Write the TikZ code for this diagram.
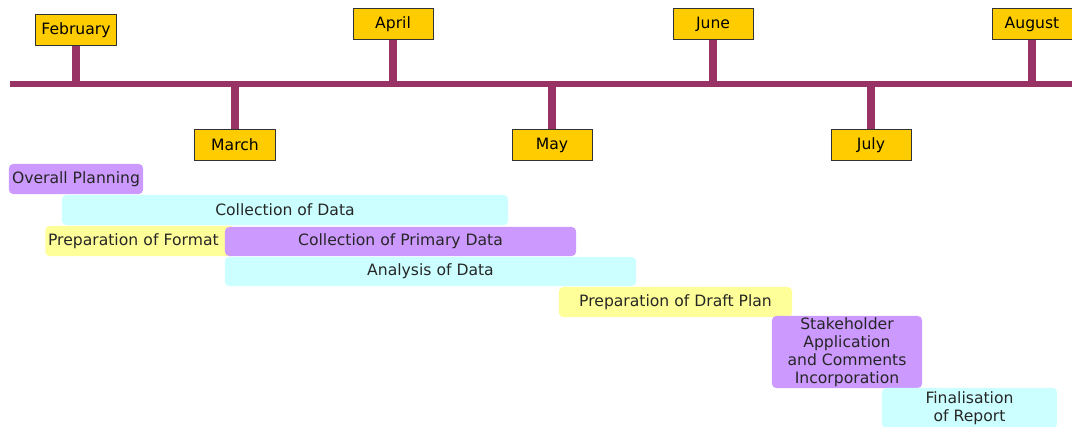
\documentclass[tikz,border=0pt]{standalone}
\usepackage{fontspec}
\setmainfont{DejaVu Sans}
\definecolor{axiscol}{RGB}{153,51,102}
\definecolor{monthfill}{RGB}{255,204,0}
\definecolor{barpurple}{RGB}{204,153,255}
\definecolor{barcyan}{RGB}{204,255,255}
\definecolor{baryellow}{RGB}{255,255,153}
\begin{document}
\begin{tikzpicture}[x=0.025cm,y=-0.025cm]
	\tikzset{
		month/.style={draw=black!80, line width=0.7pt, fill=monthfill, minimum width=2cm, minimum height=0.775cm, inner sep=0pt, font=\fontsize{11.1}{13}\selectfont},
		stem/.style={draw=axiscol, line width=0.2cm},
		axis/.style={draw=axiscol, line width=0.13cm},
		bar/.style={rounded corners=3pt, inner sep=0pt, minimum height=0.75cm, align=center, text=black!85, font=\fontsize{11.1}{12.8}\selectfont},
	}
	\useasboundingbox (0,0) rectangle (1072,427);
	% timeline
	\coordinate (ls) at (10,84);
	\coordinate (le) at (1072,84);
	\node[month] (feb) at (76,30) {February};
	\node[month] (mar) at (235,145) {March};
	\node[month] (apr) at (393,24) {April};
	\node[month] (may) at (552,145) {May};
	\node[month] (jun) at (713,24) {June};
	\node[month] (jul) at (871,145) {July};
	\node[month] (aug) at (1032,24) {August};
	\foreach \m in {feb,mar,apr,may,jun,jul,aug}
		\draw[stem] (\m) -- (\m |- ls);
	\draw[axis] (ls) -- (le);
	% activities
	\node[bar, fill=barpurple, minimum width=3.35cm] (plan) at (76,179) {Overall Planning};
	\node[bar, fill=barcyan, minimum width=11.15cm] (coll) at (285,210) {Collection of Data};
	\node[bar, fill=baryellow, inner xsep=2pt, text width=4.6cm, align=left, anchor=west] (fmt) at (45,241) {Preparation of Format};
	\node[bar, fill=barpurple, minimum width=8.775cm, minimum height=0.725cm] (prim) at (400.5,241.5) {Collection of Primary Data};
	\node[bar, fill=barcyan, minimum width=10.275cm, minimum height=0.725cm] (anal) at (430.5,271.5) {Analysis of Data};
	\node[bar, fill=baryellow, minimum width=5.825cm] (draft) at (675.5,302) {Preparation of Draft Plan};
	\node[bar, fill=barpurple, minimum width=3.75cm, minimum height=1.8cm] (stake) at (847,352) {Stakeholder\\Application\\and Comments\\Incorporation};
	\node[bar, fill=barcyan, minimum width=4.375cm, minimum height=1cm] (final) at (969.5,408) {Finalisation\\of Report};
\end{tikzpicture}
\end{document}
